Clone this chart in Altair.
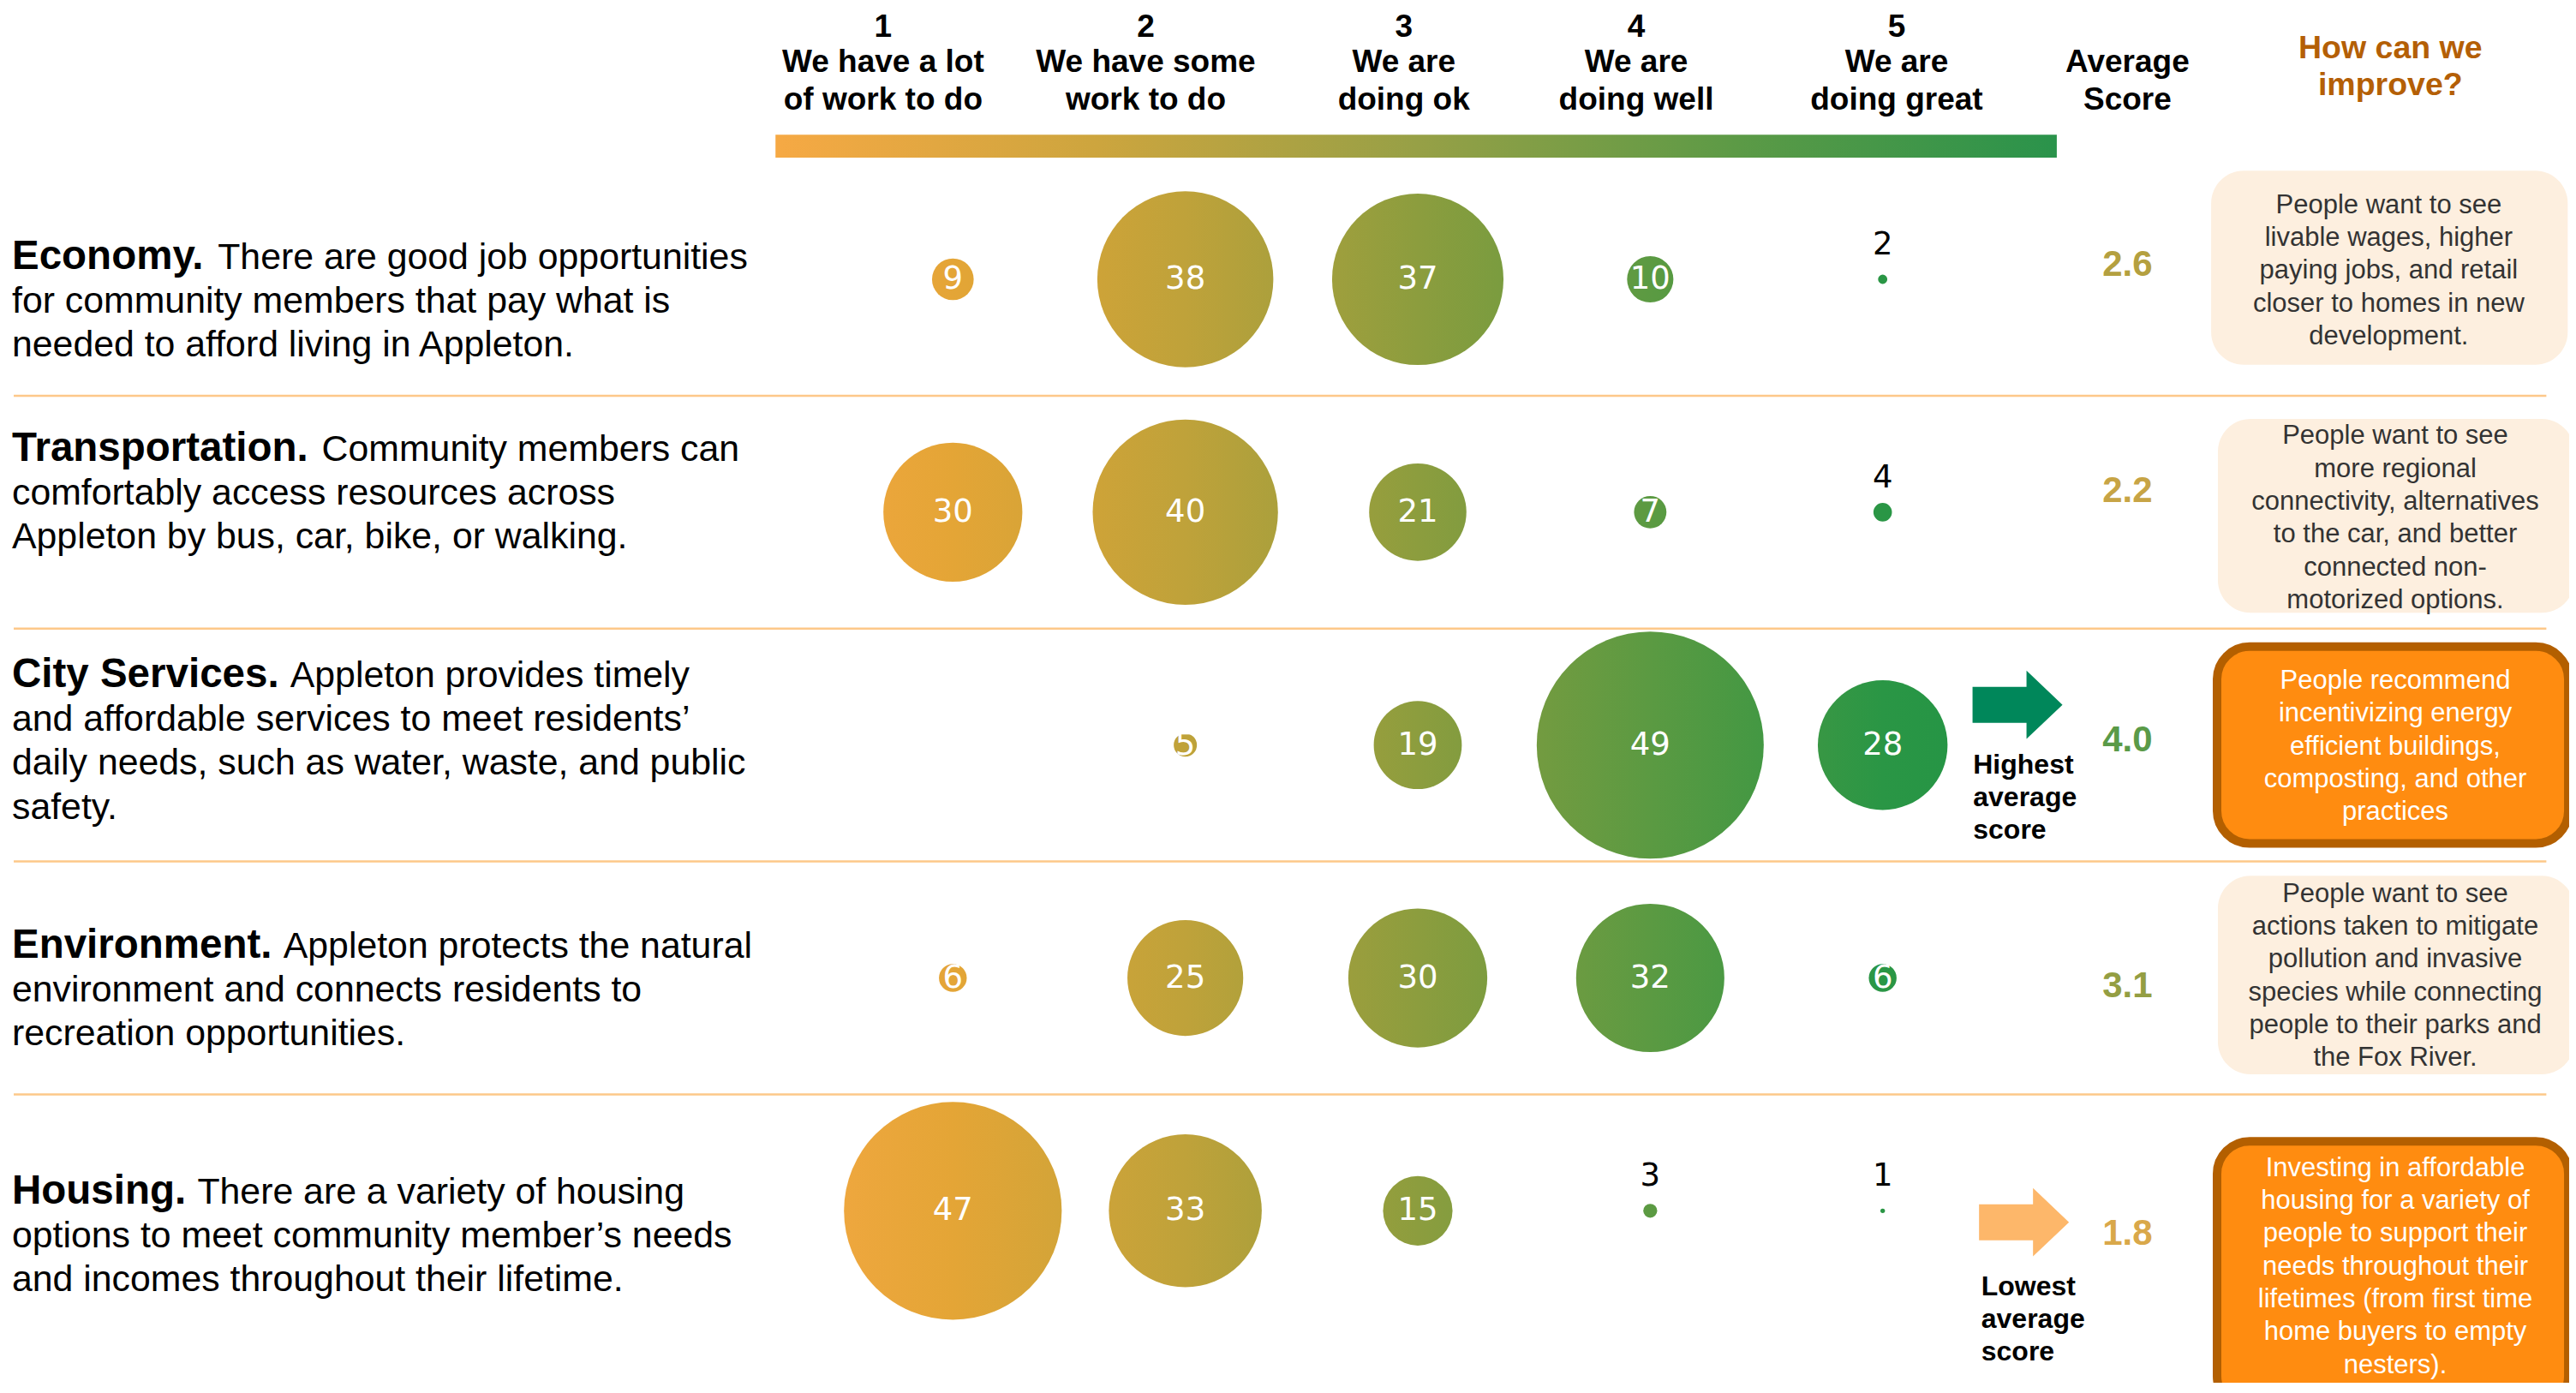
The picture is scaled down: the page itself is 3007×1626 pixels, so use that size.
import altair as alt
import pandas as pd

# ---------------- data ----------------
categories = ["Economy", "Transportation", "City Services", "Environment", "Housing"]
headings = ["Economy.", "Transportation.", "City Services.", "Environment.", "Housing."]
descriptions = [
    ["There are good job opportunities", "for community members that pay what is", "needed to afford living in Appleton."],
    ["Community members can", "comfortably access resources across", "Appleton by bus, car, bike, or walking."],
    ["Appleton provides timely", "and affordable services to meet residents\u2019", "daily needs, such as water, waste, and public", "safety."],
    ["Appleton protects the natural", "environment and connects residents to", "recreation opportunities."],
    ["There are a variety of housing", "options to meet community member\u2019s needs", "and incomes throughout their lifetime."],
]
scores = [1, 2, 3, 4, 5]
score_names = [["We have a lot", "of work to do"], ["We have some", "work to do"], ["We are", "doing ok"],
               ["We are", "doing well"], ["We are", "doing great"]]
economy = [9, 38, 37, 10, 2]
transportation = [30, 40, 21, 7, 4]
city_services = [0, 5, 19, 49, 28]
environment = [6, 25, 30, 32, 6]
housing = [47, 33, 15, 3, 1]
counts = [economy, transportation, city_services, environment, housing]
average_scores = [2.6, 2.2, 4.0, 3.1, 1.8]
improvements = [
    ["People want to see", "livable wages, higher", "paying jobs, and retail", "closer to homes in new", "development."],
    ["People want to see", "more regional", "connectivity, alternatives", "to the car, and better", "connected non-", "motorized options."],
    ["People recommend", "incentivizing energy", "efficient buildings,", "composting, and other", "practices"],
    ["People want to see", "actions taken to mitigate", "pollution and invasive", "species while connecting", "people to their parks and", "the Fox River."],
    ["Investing in affordable", "housing for a variety of", "people to support their", "needs throughout their", "lifetimes (from first time", "home buyers to empty", "nesters)."],
]
annotations = {"high": ["Highest", "average", "score"], "low": ["Lowest", "average", "score"]}

# ---------------- layout ----------------
PX, PY = 271.35, 271.83          # pixels per column unit / per row unit
W, H = 2991, 1606
X0 = -3.0696
X1 = X0 + W / PX
Y0 = -1.1699
Y1 = Y0 + H / PY
xs = alt.Scale(domain=[X0, X1], nice=False, zero=False)
ys = alt.Scale(domain=[Y0, Y1], nice=False, zero=False, reverse=True)
FONT = "Liberation Sans"

HEAD_X = [0.70, 1.83, 2.94, 3.94, 5.06]
HEAD_Y = [-1.08, -0.93, -0.77]
AVG_X = 6.053
IMP_X = 7.184
BAR = (0.237, 5.749, -0.621, -0.522)
SEP_X = (-3.04, 7.855)
XL = X0 + 6 / PX
DESC_FIRST = [-0.092, -0.268, -0.296, -0.134, -0.078]
DESC_LH = 0.188
BOLD_FS, REG_FS = 47.5, 42.8
AVG_DY = [-0.063, -0.092, -0.021, 0.035, 0.099]
BOX = [(6.413, 7.947, -0.466, 0.367), (6.442, 7.975, 0.600, 1.432), (6.420, 7.968, 1.559, 2.441),
       (6.442, 7.975, 2.561, 3.414), (6.420, 7.968, 3.683, 4.868)]
BOX_TX = [7.177, 7.205, 7.205, 7.205, 7.205]
BOX_FIRST = [-0.317, -0.325, -0.275, -0.360, -0.183]
BOX_LH = 0.141
ANN = {"high": dict(ax=5.58, ady=-0.173, color="#00875A", tx=5.389, tdy=0.085),
       "low": dict(ax=5.608, ady=0.049, color="#FDB76A", tx=5.424, tdy=0.325)}
ARROW = "M-1,-0.4 L0.2,-0.4 L0.2,-0.76 L1,0 L0.2,0.76 L0.2,0.4 L-1,0.4 Z"
DMAX, VMAX = 265.0, 49

BUBBLE_STOPS = [(0.237, "#F5A843"), (1, "#E4A536"), (2, "#BFA23A"), (3, "#8C9D3E"),
                (4, "#5B9A42"), (5, "#2A9645"), (5.749, "#1E9446")]
BAR_STOPS = [(0, "#F6A944"), (0.25, "#CDA53E"), (0.5, "#97A046"), (0.75, "#5C9A46"), (1, "#2A934B")]

ARIAL_BOLD = {' ': 278, '.': 278, 'C': 722, 'E': 667, 'H': 722, 'S': 667, 'T': 611, 'a': 556, 'c': 556,
              'e': 556, 'g': 611, 'i': 278, 'm': 889, 'n': 611, 'o': 611, 'p': 611, 'r': 389, 's': 556,
              't': 333, 'u': 611, 'v': 556, 'y': 556}


def hex2rgb(h):
    return tuple(int(h[i:i + 2], 16) for i in (1, 3, 5))


def interp_hex(stops, u):
    if u <= stops[0][0]:
        return stops[0][1]
    if u >= stops[-1][0]:
        return stops[-1][1]
    for (a, ca), (b, cb) in zip(stops, stops[1:]):
        if a <= u <= b:
            t = (u - a) / (b - a)
            ra, rb = hex2rgb(ca), hex2rgb(cb)
            return "#" + "".join(f"{round(p + (q - p) * t):02x}" for p, q in zip(ra, rb))


def X(f="x"):
    return alt.X(f"{f}:Q", scale=xs, axis=None)


def Y(f="y"):
    return alt.Y(f"{f}:Q", scale=ys, axis=None)


def text_layer(df, **mk):
    return alt.Chart(df).mark_text(**mk).encode(x=X(), y=Y(), text="text:N")


# ---------------- tables ----------------
bub = pd.DataFrame([dict(category=c, row=i, score=s, count=v)
                    for i, c in enumerate(categories) for s, v in zip(scores, counts[i])])

hi = max(range(5), key=lambda i: average_scores[i])
lo = min(range(5), key=lambda i: average_scores[i])
style = ["high" if i == hi else "low" if i == lo else "normal" for i in range(5)]

layers = []

# separators
sep = pd.DataFrame({"y": [i + 0.5 for i in range(len(categories) - 1)], "x": SEP_X[0], "x2": SEP_X[1]})
layers.append(alt.Chart(sep).mark_rule(color="#FDC889", strokeWidth=2.5).encode(
    x=X(), x2="x2:Q", y=Y()))

# gradient bar
bar = pd.DataFrame([dict(x=BAR[0], x2=BAR[1], y=BAR[2], y2=BAR[3])])
layers.append(alt.Chart(bar).mark_rect(fill={
    "gradient": "linear", "x1": 0, "x2": 1, "y1": 0, "y2": 0,
    "stops": [{"offset": o, "color": c} for o, c in BAR_STOPS]}).encode(
    x=X(), x2="x2:Q", y=Y(), y2="y2:Q"))

# header texts
head = []
for k, s in enumerate(scores):
    head.append(dict(x=HEAD_X[k], y=HEAD_Y[0], text=str(s)))
    head.append(dict(x=HEAD_X[k], y=HEAD_Y[1], text=score_names[k][0]))
    head.append(dict(x=HEAD_X[k], y=HEAD_Y[2], text=score_names[k][1]))
head.append(dict(x=AVG_X, y=HEAD_Y[1], text="Average"))
head.append(dict(x=AVG_X, y=HEAD_Y[2], text="Score"))
layers.append(text_layer(pd.DataFrame(head), font=FONT, fontSize=37, fontWeight="bold",
                         color="#000000", align="center", baseline="middle"))
imp_head = pd.DataFrame([dict(x=IMP_X, y=-0.988, text="How can we"), dict(x=IMP_X, y=-0.832, text="improve?")])
layers.append(text_layer(imp_head, font=FONT, fontSize=37.5, fontWeight="bold",
                         color="#B45F06", align="center", baseline="middle"))

# descriptions
bold_rows, reg_rows = [], []
for i in range(5):
    y0 = i + DESC_FIRST[i]
    bold_rows.append(dict(x=XL, y=y0, text=headings[i]))
    wpx = (sum(ARIAL_BOLD.get(ch, 600) for ch in headings[i]) + ARIAL_BOLD[' ']) * BOLD_FS / 1000
    for k, line in enumerate(descriptions[i]):
        reg_rows.append(dict(x=XL + (wpx / PX if k == 0 else 0), y=y0 + k * DESC_LH, text=line))
layers.append(text_layer(pd.DataFrame(bold_rows), font=FONT, fontSize=BOLD_FS, fontWeight="bold",
                         color="#000000", align="left", baseline="alphabetic", dy=13))
layers.append(text_layer(pd.DataFrame(reg_rows), font=FONT, fontSize=REG_FS,
                         color="#000000", align="left", baseline="alphabetic", dy=13))

# bubbles
size_scale = alt.Scale(type="pow", exponent=2, domain=[0, VMAX], range=[0, DMAX ** 2])
for rec in bub[bub["count"] > 0].itertuples():
    r_u = DMAX * rec.count / VMAX / 2 / PX
    grad = {"gradient": "linear", "x1": 0, "x2": 1, "y1": 0, "y2": 0, "stops": [
        {"offset": 0, "color": interp_hex(BUBBLE_STOPS, rec.score - r_u)},
        {"offset": 0.5, "color": interp_hex(BUBBLE_STOPS, rec.score)},
        {"offset": 1, "color": interp_hex(BUBBLE_STOPS, rec.score + r_u)}]}
    layers.append(alt.Chart(bub).transform_filter(
        (alt.datum.row == rec.row) & (alt.datum.score == rec.score)
    ).mark_circle(fill=grad, opacity=1, fillOpacity=1).encode(
        x=X("score"), y=Y("row"), size=alt.Size("count:Q", scale=size_scale, legend=None)))

layers.append(alt.Chart(bub).transform_filter("datum.count >= 5").mark_text(
    font="DejaVu Sans", fontSize=37, color="white", baseline="middle", align="center").encode(
    x=X("score"), y=Y("row"), text="count:Q"))
layers.append(alt.Chart(bub).transform_filter("datum.count > 0 && datum.count < 5").mark_text(
    font="DejaVu Sans", fontSize=37, color="black", baseline="middle", align="center", dy=-40).encode(
    x=X("score"), y=Y("row"), text="count:Q"))

# average scores
avg = pd.DataFrame([dict(x=AVG_X, y=i + AVG_DY[i], avg=a, text=f"{a:.1f}") for i, a in enumerate(average_scores)])
layers.append(alt.Chart(avg).mark_text(font=FONT, fontSize=42, fontWeight="bold", align="center",
                                       baseline="middle").encode(
    x=X(), y=Y(), text="text:N",
    color=alt.Color("avg:Q", legend=None, scale=alt.Scale(
        domain=[1.8, 2.6, 4.0], range=["#D9A84A", "#B4A040", "#5A9A48"], interpolate="rgb"))))

# arrows + notes
arr_rows, note_rows = [], []
for key, idx in (("high", hi), ("low", lo)):
    a = ANN[key]
    arr_rows.append(dict(x=a["ax"], y=idx + a["ady"], kind=key))
    for k, line in enumerate(annotations[key]):
        note_rows.append(dict(x=a["tx"], y=idx + a["tdy"] + k * 0.141, text=line))
layers.append(alt.Chart(pd.DataFrame(arr_rows)).mark_point(
    shape=ARROW, filled=True, size=11025, opacity=1, strokeWidth=0).encode(
    x=X(), y=Y(), color=alt.Color("kind:N", legend=None, scale=alt.Scale(
        domain=["high", "low"], range=[ANN["high"]["color"], ANN["low"]["color"]]))))
layers.append(text_layer(pd.DataFrame(note_rows), font=FONT, fontSize=32, fontWeight="bold",
                         color="#000000", align="left", baseline="middle"))

# improvement boxes
inset = 5 / PX
box_rows = []
for i, (bx0, bx1, by0, by1) in enumerate(BOX):
    d = inset if style[i] != "normal" else 0
    box_rows.append(dict(x=bx0 + d, x2=bx1 - d, y=by0 + d, y2=by1 - d, kind="hl" if style[i] != "normal" else "plain"))
boxes = pd.DataFrame(box_rows)
layers.append(alt.Chart(boxes).transform_filter("datum.kind == 'plain'").mark_rect(
    cornerRadius=38, fill="#FDEFDF").encode(x=X(), x2="x2:Q", y=Y(), y2="y2:Q"))
layers.append(alt.Chart(boxes).transform_filter("datum.kind == 'hl'").mark_rect(
    cornerRadius=38, fill="#FF8C10", stroke="#B35F00", strokeWidth=10).encode(
    x=X(), x2="x2:Q", y=Y(), y2="y2:Q"))

imp_rows = []
for i, lines in enumerate(improvements):
    for k, line in enumerate(lines):
        imp_rows.append(dict(x=BOX_TX[i], y=i + BOX_FIRST[i] + k * BOX_LH, text=line,
                             kind="hl" if style[i] != "normal" else "plain"))
imp = pd.DataFrame(imp_rows)
layers.append(alt.Chart(imp).transform_filter("datum.kind == 'plain'").mark_text(
    font=FONT, fontSize=31, color="#333333", align="center", baseline="middle").encode(
    x=X(), y=Y(), text="text:N"))
layers.append(alt.Chart(imp).transform_filter("datum.kind == 'hl'").mark_text(
    font=FONT, fontSize=31, color="#FFFFFF", align="center", baseline="middle").encode(
    x=X(), y=Y(), text="text:N"))

chart = alt.layer(*layers).properties(
    width=W, height=H, padding=0,
    autosize=alt.AutoSizeParams(type="none"),
    background="white",
).configure_view(stroke=None)

chart.save("out.html", embed_options={"renderer": "svg", "actions": False})
